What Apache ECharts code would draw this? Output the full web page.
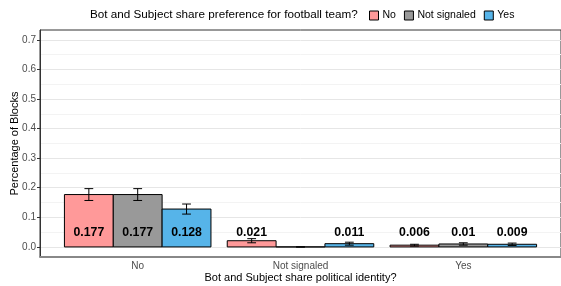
<!DOCTYPE html>
<html>
<head>
<meta charset="utf-8">
<script src="https://cdn.jsdelivr.net/npm/echarts@6/dist/echarts.min.js"></script>
<style>html,body{margin:0;padding:0;background:#fff}#c{width:561px;height:286px}</style>
</head>
<body>
<div id="c"></div>
<script>
const categories = ['No', 'Not signaled', 'Yes'];
const fillGroups = ['No', 'Not signaled', 'Yes'];
const valuesNo = [0.177, 0.021, 0.006];
const errNo = [0.020, 0.007, 0.003];
const valuesNotSignaled = [0.177, 0, 0.010];
const errNotSignaled = [0.020, 0, 0.004];
const valuesYes = [0.128, 0.011, 0.009];
const errYes = [0.017, 0.005, 0.004];
const yTicks = [0, 0.1, 0.2, 0.3, 0.4, 0.5, 0.6, 0.7];
const yMinorTicks = [0.05, 0.15, 0.25, 0.35, 0.45, 0.55, 0.65];
const labelY = 0.05;

const colors = ['#FF9999', '#999999', '#56B4E9'];
const FONT = '"Liberation Sans", Arial, Helvetica, sans-serif';
const allValues = [valuesNo, valuesNotSignaled, valuesYes];
const allErr = [errNo, errNotSignaled, errYes];
const offsets = [-0.3, 0, 0.3];
const halfW = 0.15, capHalf = 0.027;

function makeSeries(k) {
  return {
    name: fillGroups[k],
    type: 'custom',
    itemStyle: { color: colors[k], borderColor: '#000', borderWidth: 1 },
    data: categories.map((c, i) => [i, allValues[k][i], allErr[k][i]]),
    encode: { x: 0, y: 1 },
    renderItem: function (params, api) {
      const ci = api.value(0), v = api.value(1), e = api.value(2);
      const xc = ci + offsets[k];
      const p0 = api.coord([xc - halfW, 0]);
      const p1 = api.coord([xc + halfW, v]);
      const children = [];
      children.push({
        type: 'rect',
        shape: { x: p0[0], y: p1[1], width: p1[0] - p0[0], height: p0[1] - p1[1] },
        style: { fill: colors[k], stroke: '#000', lineWidth: 1 }
      });
      const top = api.coord([xc, v + e]);
      const bot = api.coord([xc, v - e]);
      const cl = api.coord([xc - capHalf, 0])[0];
      const cr = api.coord([xc + capHalf, 0])[0];
      const ls = { stroke: '#000', lineWidth: 1 };
      children.push({ type: 'line', shape: { x1: top[0], y1: top[1], x2: bot[0], y2: bot[1] }, style: ls });
      children.push({ type: 'line', shape: { x1: cl, y1: top[1], x2: cr, y2: top[1] }, style: ls });
      children.push({ type: 'line', shape: { x1: cl, y1: bot[1], x2: cr, y2: bot[1] }, style: ls });
      if (v > 0) {
        const lp = api.coord([xc, labelY]);
        children.push({
          type: 'text',
          style: { text: String(v), x: lp[0], y: lp[1], align: 'center', verticalAlign: 'middle',
            font: 'bold 12.3px ' + FONT, fill: '#000' }
        });
      }
      return { type: 'group', children: children };
    },
    markLine: k === 0 ? {
      silent: true, symbol: 'none', label: { show: false },
      lineStyle: { color: '#f3f3f3', width: 1, type: 'solid' },
      data: yMinorTicks.map(v => ({ yAxis: v })),
      z: 0
    } : undefined,
    z: 3
  };
}

const chart = echarts.init(document.getElementById('c'), null, { renderer: 'canvas' });
chart.setOption({
  animation: false,
  backgroundColor: '#fff',
  title: {
    text: 'Bot and Subject share preference for football team?',
    left: 90, top: 9, padding: 0,
    textStyle: { fontSize: 11.7, fontWeight: 'normal', color: '#000', fontFamily: FONT }
  },
  legend: {
    left: 369, top: 10, padding: 0, itemWidth: 9, itemHeight: 9, itemGap: 8,
    textStyle: { fontSize: 10.5, color: '#000', fontFamily: FONT, padding: [0, 0, 0, -1] },
    data: fillGroups.map((g, k) => ({ name: g, icon: 'rect',
      itemStyle: { color: colors[k], borderColor: '#000', borderWidth: 1 } }))
  },
  grid: { left: 40, right: 0, top: 30, height: 227, show: true, borderColor: '#333', borderWidth: 1,
          containLabel: false, outerBoundsMode: 'none' },
  xAxis: {
    type: 'value', min: -0.6, max: 2.6,
    name: 'Bot and Subject share political identity?', nameLocation: 'middle', nameGap: 15,
    nameMoveOverlap: false,
    nameTextStyle: { fontSize: 11, color: '#000', fontFamily: FONT },
    axisLine: { show: true, onZero: false, lineStyle: { color: '#888', width: 2 } },
    axisTick: { show: false },
    splitLine: { show: false },
    axisLabel: { customValues: [0, 1, 2], formatter: v => categories[Math.round(v)], fontSize: 10, color: '#4d4d4d', margin: 4, fontFamily: FONT }
  },
  yAxis: {
    type: 'value', min: -0.034, max: 0.733,
    name: 'Percentage of Blocks', nameLocation: 'middle', nameGap: 20,
    nameMoveOverlap: false,
    nameTextStyle: { fontSize: 11, color: '#000', fontFamily: FONT },
    axisLine: { show: true, onZero: false, lineStyle: { color: '#333', width: 1 } },
    axisTick: { show: true, length: 3, customValues: yTicks, lineStyle: { color: '#333' } },
    axisLabel: { customValues: yTicks, formatter: v => v.toFixed(1), fontSize: 10, color: '#4d4d4d', margin: 4, fontFamily: FONT },
    splitLine: { show: true, lineStyle: { color: '#e6e6e6', width: 1 } }
  },
  series: [0, 1, 2].map(makeSeries)
});
</script>
</body>
</html>
